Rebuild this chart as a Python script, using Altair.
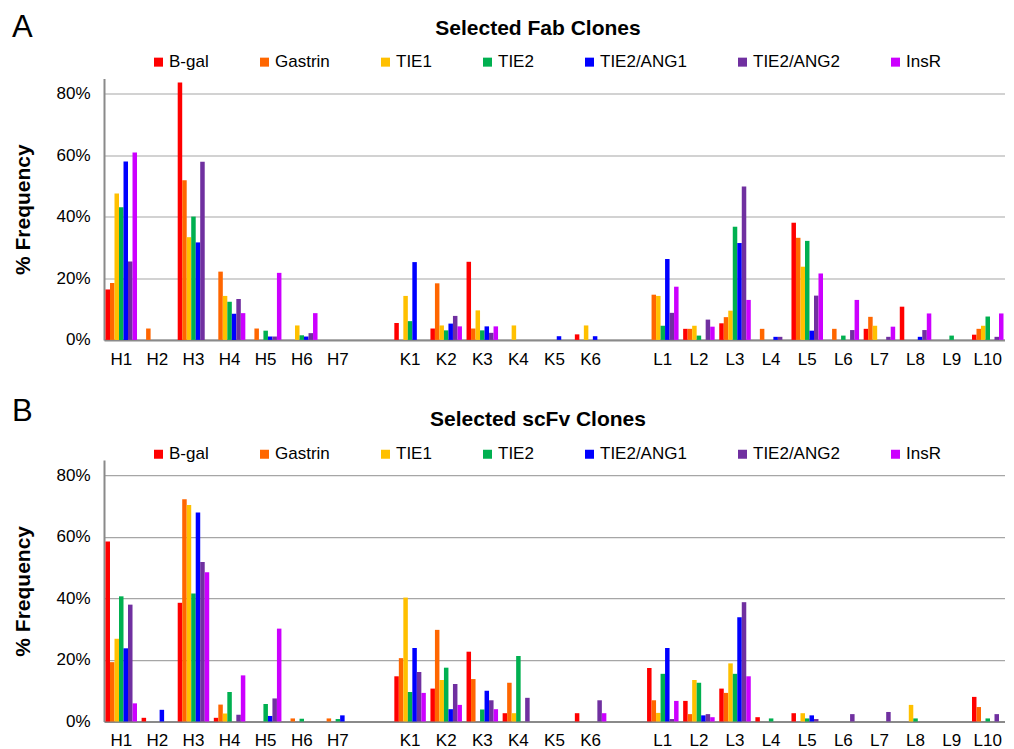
import altair as alt
import pandas as pd

FONT = "Liberation Sans"

h_clones = ["H1", "H2", "H3", "H4", "H5", "H6", "H7"]
k_clones = ["K1", "K2", "K3", "K4", "K5", "K6"]
l_clones = ["L1", "L2", "L3", "L4", "L5", "L6", "L7", "L8", "L9", "L10"]
categories = h_clones + k_clones + l_clones
x_domain = h_clones + [" "] + k_clones + ["  "] + l_clones

series = ["B-gal", "Gastrin", "TIE1", "TIE2", "TIE2/ANG1", "TIE2/ANG2", "InsR"]
colors = ["#FF0000", "#FF6600", "#FFC000", "#00B050", "#0000FF", "#7030A0", "#CC00FF"]
y_ticks = [0, 0.2, 0.4, 0.6, 0.8]

# Panel A: Selected Fab Clones (% frequency), order H1..H7, K1..K6, L1..L10
fab_bgal = [16.4, 0, 83.7, 0, 0, 0, 0, 5.5, 3.7, 25.4, 0, 0, 1.8, 0, 3.6, 5.4, 0, 38.1, 0, 3.6, 10.8, 0, 1.7]
fab_gastrin = [18.5, 3.7, 51.9, 22.2, 3.7, 0, 0, 0, 18.4, 3.7, 0, 0, 0, 14.7, 3.6, 7.4, 3.6, 33.2, 3.6, 7.5, 0, 0, 3.6]
fab_tie1 = [47.6, 0, 33.4, 14.3, 0, 4.7, 0, 14.3, 4.7, 9.6, 4.7, 0, 4.7, 14.3, 4.6, 9.5, 0, 23.8, 0, 4.6, 0, 0, 4.6]
fab_tie2 = [43.1, 0, 40.1, 12.4, 3.0, 1.5, 0, 6.1, 3.1, 3.1, 0, 0, 0, 4.6, 1.4, 36.8, 0, 32.2, 1.4, 0, 0, 1.4, 7.6]
fab_ang1 = [58.0, 0, 31.7, 8.5, 1.1, 1.1, 0, 25.3, 5.3, 4.4, 0, 1.2, 1.2, 26.3, 0, 31.5, 1.0, 3.0, 0, 0, 1.0, 0, 0]
fab_ang2 = [25.5, 0, 57.9, 13.3, 1.1, 2.2, 0, 0, 7.8, 2.3, 0, 0, 0, 8.8, 6.6, 49.9, 1.0, 14.4, 3.2, 1.0, 3.2, 0, 1.0]
fab_insr = [60.9, 0, 0, 8.7, 21.8, 8.7, 0, 0, 4.4, 4.4, 0, 0, 0, 17.3, 4.3, 13.0, 0, 21.6, 13.0, 4.3, 8.6, 0, 8.6]

# Panel B: Selected scFv Clones (% frequency)
scfv_bgal = [58.5, 1.2, 38.6, 1.2, 0, 0, 0, 14.7, 10.7, 22.7, 2.7, 0, 2.7, 17.4, 6.7, 10.7, 1.4, 2.7, 0, 0, 0, 0, 8.0]
scfv_gastrin = [19.3, 0, 72.3, 5.5, 0, 1.0, 1.0, 20.6, 29.8, 13.8, 12.6, 0, 0, 6.9, 2.4, 9.3, 0, 0, 0, 0, 0, 0, 4.7]
scfv_tie1 = [26.9, 0, 70.4, 2.6, 0, 0, 0, 40.3, 13.5, 0, 2.7, 0, 0, 2.8, 13.5, 18.9, 0, 2.7, 0, 0, 5.4, 0, 0]
scfv_tie2 = [40.7, 0, 41.6, 9.6, 5.7, 0.9, 0.8, 9.6, 17.5, 3.9, 21.3, 0, 0, 15.5, 12.6, 15.5, 1.0, 1.0, 0, 0, 1.0, 0, 1.0]
scfv_ang1 = [23.8, 3.8, 68.0, 0, 1.8, 0, 2.0, 23.9, 4.0, 10.0, 0, 0, 0, 23.9, 2.0, 33.9, 0, 2.0, 0, 0, 0, 0, 0]
scfv_ang2 = [38.0, 0, 51.9, 2.2, 7.5, 0, 0, 16.1, 12.2, 6.9, 7.7, 0, 6.9, 0.8, 2.4, 38.8, 0, 0.8, 2.4, 3.1, 0, 0, 2.4]
scfv_insr = [5.9, 0, 48.5, 15.0, 30.2, 0, 0, 9.3, 5.4, 4.0, 0, 0, 2.7, 6.7, 1.4, 14.7, 0, 0, 0, 0, 0, 0, 0]

fab_values = [fab_bgal, fab_gastrin, fab_tie1, fab_tie2, fab_ang1, fab_ang2, fab_insr]
scfv_values = [scfv_bgal, scfv_gastrin, scfv_tie1, scfv_tie2, scfv_ang1, scfv_ang2, scfv_insr]


def make_df(values_by_series):
    rows = []
    for s, vals in zip(series, values_by_series):
        for c, v in zip(categories, vals):
            rows.append({"clone": c, "antigen": s, "freq": v / 100.0})
    return pd.DataFrame(rows)


PLOT_W = 901
PLOT_H = 261.4


def panel(df, letter, title, letter_y, title_y, legend_y, x_label_pad):
    bars = alt.Chart(df).transform_filter("datum.freq > 0").mark_bar(opacity=1).encode(
        x=alt.X(
            "clone:N",
            scale=alt.Scale(domain=x_domain, paddingInner=0.127, paddingOuter=0.0415),
            axis=alt.Axis(
                title=None, labelAngle=0, ticks=False, tickSize=0, grid=False,
                domainColor="#8a8a8a", domainWidth=2, labelFontSize=17, labelFont=FONT,
                labelColor="#000000", labelPadding=x_label_pad,
            ),
        ),
        xOffset=alt.XOffset("antigen:N", scale=alt.Scale(domain=series, paddingInner=0, paddingOuter=0)),
        y=alt.Y(
            "freq:Q",
            scale=alt.Scale(domain=[0, 0.85], nice=False, zero=True),
            axis=alt.Axis(
                values=y_ticks, format=".0%", title="% Frequency", ticks=False, tickSize=0,
                domainColor="#8a8a8a", domainWidth=2, gridColor="#a6a6a6", gridWidth=1.2,
                labelFontSize=17, labelFont=FONT, labelColor="#000000", labelPadding=14,
                titleFontSize=21, titleFont=FONT, titleFontWeight="bold", titleColor="#000000",
                titleX=-81, titleY=PLOT_H / 2, titleAngle=270, titleAlign="center",
                titleBaseline="middle",
            ),
        ),
        color=alt.Color(
            "antigen:N",
            scale=alt.Scale(domain=series, range=colors),
            legend=alt.Legend(
                orient="none", legendX=46, legendY=legend_y, direction="horizontal", title=None,
                symbolType="square", symbolSize=81, symbolStrokeWidth=0, symbolOpacity=1,
                labelFontSize=17, labelFont=FONT, labelColor="#000000", labelOffset=2,
                columnPadding=47, padding=0,
            ),
        ),
    )
    letter_mark = alt.Chart(pd.DataFrame({"t": [letter]})).mark_text(
        fontSize=31, font=FONT, align="left", baseline="alphabetic", color="#000000"
    ).encode(text="t:N", x=alt.value(-92), y=alt.value(letter_y))
    title_mark = alt.Chart(pd.DataFrame({"t": [title]})).mark_text(
        fontSize=21, font=FONT, fontWeight="bold", align="center", baseline="alphabetic", color="#000000"
    ).encode(text="t:N", x=alt.value(434), y=alt.value(title_y))
    return alt.layer(bars, letter_mark, title_mark).properties(width=PLOT_W, height=PLOT_H)


panel_a = panel(make_df(fab_values), "A", "Selected Fab Clones", -41.1, -43.6, -25.1, 12)
panel_b = panel(make_df(scfv_values), "B", "Selected scFv Clones", -39.0, -34.6, -14.6, 11)

chart = alt.vconcat(panel_a, panel_b, spacing=119.6, bounds="flush").resolve_legend(
    color="independent"
).properties(
    padding={"left": 4, "top": 3.5, "right": 0, "bottom": 2}
).configure_view(stroke=None)

chart.save("out.html", embed_options={"renderer": "svg", "actions": False})
